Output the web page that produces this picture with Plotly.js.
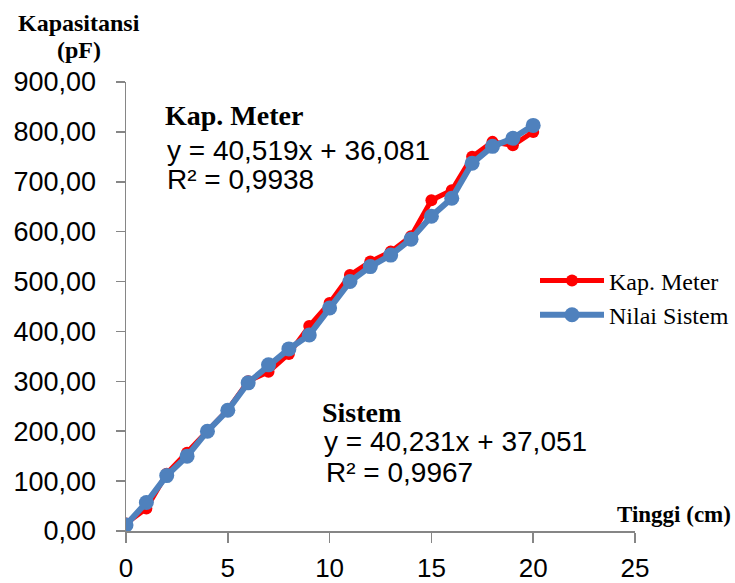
<!DOCTYPE html>
<html>
<head>
<meta charset="utf-8">
<script src="https://cdn.plot.ly/plotly-3.0.1.min.js"></script>
<style>
html,body{margin:0;padding:0;background:#fff;}
#chart{width:735px;height:583px;}
</style>
</head>
<body>
<div id="chart"></div>
<script>
const tinggi = [0,1,2,3,4,5,6,7,8,9,10,11,12,13,14,15,16,17,18,19,20];
const kapMeter = [15,45,115,157,200,243,300,319,355,411,457,513,540,560,591,663,683,750,780,773,800];
const nilaiSistem = [12,57,111,150,200,242,297,333,365,393,447,500,530,553,585,631,667,737,771,787,813];
const yTicks = [0,100,200,300,400,500,600,700,800,900];
const yTickText = ["0,00","100,00","200,00","300,00","400,00","500,00","600,00","700,00","800,00","900,00"];
const xTicks = [0,5,10,15,20,25];

const L = 126, R = 635, T = 82, B = 531;
const px = v => (v - L) / (R - L);
const py = v => (B - v) / (B - T);

const serif = "Liberation Serif, Times New Roman, serif";
const sans = "Liberation Sans, Arial, sans-serif";

const traces = [
  {x: tinggi, y: kapMeter, name: "Kap. Meter", type: "scatter", mode: "lines+markers",
   line: {color: "#FF0000", width: 5}, marker: {color: "#FF0000", size: 12}},
  {x: tinggi, y: nilaiSistem, name: "Nilai Sistem", type: "scatter", mode: "lines+markers",
   line: {color: "#4F81BD", width: 6}, marker: {color: "#4F81BD", size: 15}}
];

const ann = (text, x, y, font, anchor) => ({
  text: text, xref: "paper", yref: "paper", x: px(x), y: py(y),
  xanchor: anchor || "left", yanchor: "middle", showarrow: false, font: font
});

const layout = {
  width: 735, height: 583,
  margin: {l: L, r: 735 - R, t: T, b: 583 - B, autoexpand: false},
  paper_bgcolor: "#fff", plot_bgcolor: "#fff",
  showlegend: true,
  legend: {x: px(535), y: py(298), xanchor: "left", yanchor: "middle",
           font: {family: serif, size: 24, color: "#000"}, itemwidth: 64,
           tracegroupgap: 0, bgcolor: "rgba(0,0,0,0)"},
  xaxis: {range: [0, 25], tickvals: xTicks, ticktext: xTicks.map(String),
          showgrid: false, zeroline: false, showline: true, linecolor: "#868686", linewidth: 1.5,
          ticks: "outside", ticklen: 10, tickcolor: "#868686", tickwidth: 1.5,
          ticklabelstandoff: 3, automargin: false,
          tickfont: {family: sans, size: 26, color: "#000"}, fixedrange: true},
  yaxis: {range: [0, 900], tickvals: yTicks, ticktext: yTickText,
          showgrid: false, zeroline: false, showline: true, linecolor: "#868686", linewidth: 1.5,
          ticks: "outside", ticklen: 9, tickcolor: "#868686", tickwidth: 1.5,
          ticklabelstandoff: 14, automargin: false,
          tickfont: {family: sans, size: 27, color: "#000"}, fixedrange: true},
  annotations: [
    ann("<b>Kapasitansi</b>", 79, 23, {family: serif, size: 24, color: "#000"}, "center"),
    ann("<b>(pF)</b>", 79, 50, {family: serif, size: 24, color: "#000"}, "center"),
    ann("<b>Tinggi (cm)</b>", 733, 514, {family: serif, size: 23, color: "#000"}, "right"),
    ann("<b>Kap. Meter</b>", 163, 115, {family: serif, size: 28, color: "#000"}),
    ann("y = 40,519x + 36,081", 165, 150, {family: sans, size: 28, color: "#000"}),
    ann("R² = 0,9938", 165, 179, {family: sans, size: 28, color: "#000"}),
    ann("<b>Sistem</b>", 320, 412, {family: serif, size: 28, color: "#000"}),
    ann("y = 40,231x + 37,051", 322, 441, {family: sans, size: 28, color: "#000"}),
    ann("R² = 0,9967", 324, 472, {family: sans, size: 28, color: "#000"})
  ]
};

Plotly.newPlot("chart", traces, layout, {displayModeBar: false, staticPlot: true});
</script>
</body>
</html>
